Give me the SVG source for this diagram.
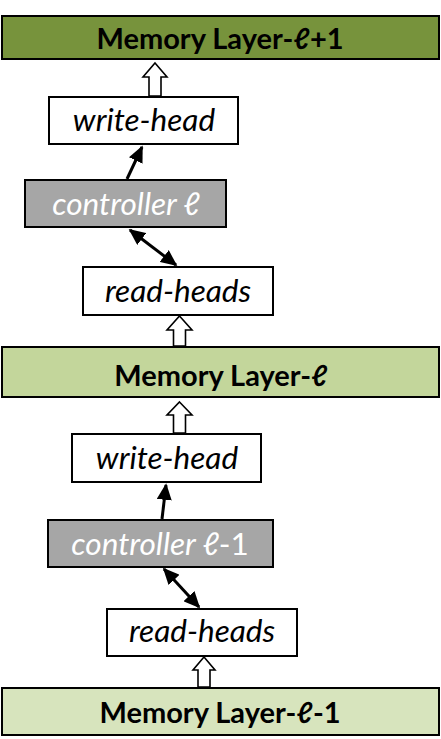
<svg xmlns="http://www.w3.org/2000/svg" width="441" height="739" viewBox="0 0 441 739">
<style>
.box{stroke:#000;stroke-width:2}
.mem{font-family:Lato,"Open Sans","Liberation Sans",sans-serif;font-weight:bold;font-size:29px;fill:#000;text-anchor:middle}
.lbl{font-family:Lato,"Open Sans","Liberation Sans",sans-serif;font-style:italic;font-size:31.5px;text-anchor:middle}
.up{font-style:normal}
.hollow{fill:#fff;stroke:#000;stroke-width:1.6;stroke-linejoin:miter}
.conn{stroke:#000;stroke-width:3;fill:none}
</style>
<defs>
<marker id="ah" viewBox="0 0 10 10" refX="9" refY="5" markerWidth="5.5" markerHeight="5" orient="auto-start-reverse" markerUnits="strokeWidth" preserveAspectRatio="none">
<path d="M0,0 L10,5 L0,10 z" fill="#000"/>
</marker>
</defs>
<rect width="441" height="739" fill="#fff"/>
<g id="mem-l1">
<rect class="box" x="2" y="16" width="437" height="43" fill="#77933C"/>
<text class="mem" x="220" y="49">Memory Layer-ℓ+1</text>
</g>
<g id="write-head-1">
<rect class="box" x="49" y="97" width="189" height="47" fill="#fff"/>
<text class="lbl" x="144" y="131" fill="#000">write-head</text>
</g>
<g id="controller-1">
<rect class="box" x="25" y="180" width="201" height="47" fill="#A6A6A6"/>
<text class="lbl" x="126" y="215" fill="#fff">controller ℓ</text>
</g>
<g id="read-heads-1">
<rect class="box" x="83" y="267" width="190" height="48" fill="#fff"/>
<text class="lbl" x="178" y="302" fill="#000">read-heads</text>
</g>
<g id="mem-l">
<rect class="box" x="2" y="347" width="437" height="50" fill="#C3D69B"/>
<text class="mem" x="221" y="386">Memory Layer-ℓ</text>
</g>
<g id="write-head-2">
<rect class="box" x="72" y="434" width="189" height="48" fill="#fff"/>
<text class="lbl" x="167" y="469" fill="#000">write-head</text>
</g>
<g id="controller-2">
<rect class="box" x="48" y="520" width="225" height="47" fill="#A6A6A6"/>
<text class="lbl" x="160" y="555" fill="#fff">controller ℓ<tspan class="up">-1</tspan></text>
</g>
<g id="read-heads-2">
<rect class="box" x="107" y="609" width="190" height="47" fill="#fff"/>
<text class="lbl" x="202" y="642" fill="#000">read-heads</text>
</g>
<g id="mem-l0">
<rect class="box" x="2" y="688" width="437" height="47" fill="#D7E4BD"/>
<text class="mem" x="220" y="723">Memory Layer-ℓ-1</text>
</g>
<g id="connectors">
<polygon class="hollow" points="155,63 167,77 161,77 161,96 149,96 149,77 143,77"/>
<polygon class="hollow" points="179.5,316 192,330 185.5,330 185.5,346 173.5,346 173.5,330 167,330"/>
<polygon class="hollow" points="179.5,402 192,415 185.5,415 185.5,433 173.5,433 173.5,415 167,415"/>
<polygon class="hollow" points="204,657 215,670 210,670 210,687 198,687 198,670 193,670"/>
<line class="conn" x1="127" y1="179" x2="142" y2="147" marker-end="url(#ah)"/>
<line class="conn" x1="130" y1="230" x2="176" y2="265" marker-start="url(#ah)" marker-end="url(#ah)"/>
<line class="conn" x1="162" y1="519" x2="166" y2="485" marker-end="url(#ah)"/>
<line class="conn" x1="164" y1="569" x2="199" y2="607" marker-start="url(#ah)" marker-end="url(#ah)"/>
</g>
</svg>
